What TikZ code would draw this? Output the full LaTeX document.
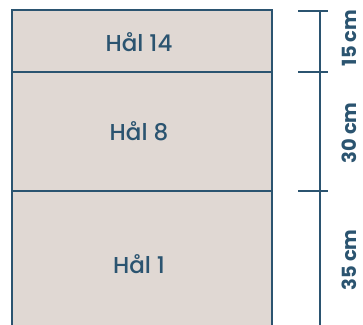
\documentclass[tikz,border=0pt]{standalone}
\usepackage{fontspec}
\setmainfont{Poppins}
\newfontfamily\medfont{Poppins}[UprightFont=* Medium]
\definecolor{ink}{HTML}{2B5470}
\definecolor{sand}{HTML}{E0D8D3}

\begin{document}
\begin{tikzpicture}[x=1pt,y=-1pt]
  %%%%% START %%%%%
  \def\xl{12}
  \def\xr{272}
  \def\ytop{10}
  \def\yone{72}
  \def\ytwo{191}
  \def\ybot{330}
  \def\xrul{320}
  \def\tickl{298}
  \def\tickr{328}
  \def\xlab{349}

  \useasboundingbox (0,0) rectangle (363,324);

  \fill[sand] (\xl,\ytop) rectangle (\xr,\ybot);
  \draw[ink,line width=2] (\xl,\ybot) -- (\xl,\ytop) -- (\xr,\ytop) -- (\xr,\ybot);
  \draw[ink,line width=2] (\xl,\yone) -- (\xr,\yone);
  \draw[ink,line width=2] (\xl,\ytwo) -- (\xr,\ytwo);

  \node[ink,font=\medfont\fontsize{23}{26}\selectfont] (h14) at (139,42) {Hål 14};
  \node[ink,font=\medfont\fontsize{23}{26}\selectfont] (h8) at (139,131) {Hål 8};
  \node[ink,font=\medfont\fontsize{23}{26}\selectfont] (h1) at (139,264) {Hål 1};

  \draw[ink,line width=1.5] (\xrul,\ytop+1) -- (\xrul,\ybot);
  \draw[ink,line width=2.2] (\tickl,\ytop+1) -- (\tickr,\ytop+1);
  \draw[ink,line width=2.2] (\tickl,\yone) -- (\tickr,\yone);
  \draw[ink,line width=2.2] (\tickl,\ytwo) -- (\tickr,\ytwo);

  \node[ink,rotate=90,inner sep=0pt,font=\bfseries\fontsize{19.5}{22}\selectfont] (l15) at (\xlab,38) {15 cm};
  \node[ink,rotate=90,inner sep=0pt,font=\bfseries\fontsize{19.5}{22}\selectfont] (l30) at (\xlab,133) {30 cm};
  \node[ink,rotate=90,inner sep=0pt,font=\bfseries\fontsize{19.5}{22}\selectfont] (l35) at (\xlab,260) {35 cm};
  %%%%% END %%%%%
\end{tikzpicture}
\end{document}
